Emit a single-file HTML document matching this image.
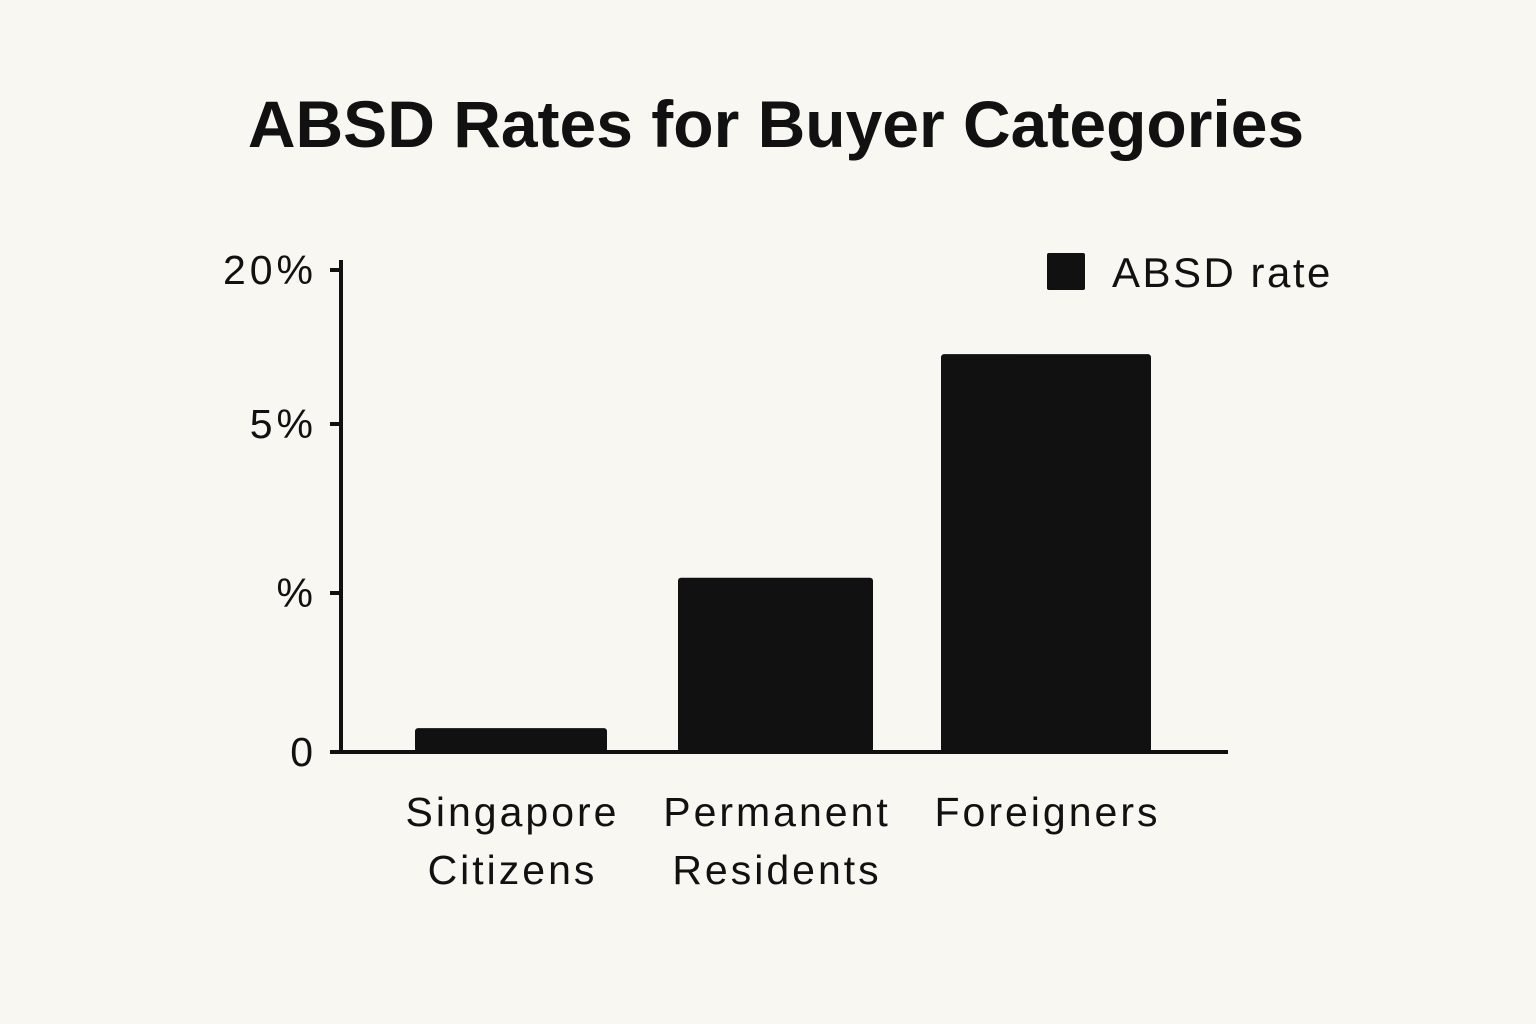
<!DOCTYPE html>
<html><head><meta charset="utf-8"><style>
html,body{margin:0;padding:0;background:#f8f7f2;}
svg{display:block;font-family:"Liberation Sans",sans-serif;}
</style></head><body>
<svg id="chart" width="1536" height="1024" viewBox="0 0 1536 1024">
<rect width="1536" height="1024" fill="#f8f7f2"/>
<text x="776" y="147" text-anchor="middle" font-size="66" font-weight="bold" fill="#111">ABSD Rates for Buyer Categories</text>
<g id="bars"></g>
<g id="yaxis"></g>
<g id="xlabels"></g>
<line x1="341" y1="260" x2="341" y2="754" stroke="#111" stroke-width="4"/>
<line x1="339" y1="752" x2="1228" y2="752" stroke="#111" stroke-width="4"/>
<g>
<rect x="1047" y="253" width="38" height="37" rx="2" fill="#111"/>
<text x="1112" y="287" font-size="42" letter-spacing="2.5" fill="#111">ABSD rate</text>
</g>
</svg>
<script>
const categories = [["Singapore","Citizens"],["Permanent","Residents"],["Foreigners"]];
const values = [0.3, 2.27, 11.8];
const tickValues = [0, 2, 5, 20];
const tickLabels = ["0", "%", "5%", "20%"];
const tickPix = [752, 593, 424, 270];
function yScale(v){
  for(let i=0;i<tickValues.length-1;i++){
    if(v<=tickValues[i+1]||i===tickValues.length-2){
      const t=(v-tickValues[i])/(tickValues[i+1]-tickValues[i]);
      return tickPix[i]+t*(tickPix[i+1]-tickPix[i]);
    }
  }
}
const barX=[415,678,941], barW=[192,195,210];
const NS="http://www.w3.org/2000/svg";
const bars=document.getElementById('bars');
values.forEach((v,i)=>{
  const r=document.createElementNS(NS,'rect');
  const y=yScale(v);
  r.setAttribute('x',barX[i]);r.setAttribute('y',y);
  r.setAttribute('width',barW[i]);r.setAttribute('height',752-y);
  r.setAttribute('rx',3);r.setAttribute('fill','#111');
  
  
  bars.appendChild(r);
});
const ya=document.getElementById('yaxis');
tickValues.forEach((v,i)=>{
  const y=yScale(v);
  const l=document.createElementNS(NS,'line');
  l.setAttribute('x1',330);l.setAttribute('x2',341);l.setAttribute('y1',y);l.setAttribute('y2',y);
  l.setAttribute('stroke','#111');l.setAttribute('stroke-width',4);
  
  
  ya.appendChild(l);
  const t=document.createElementNS(NS,'text');
  t.setAttribute('x',317);t.setAttribute('y',y+14);t.setAttribute('text-anchor','end');
  t.setAttribute('font-size',41);t.setAttribute('letter-spacing',4);t.setAttribute('fill','#111');
  t.textContent=tickLabels[i];
  
  
  ya.appendChild(t);
});
const xl=document.getElementById('xlabels');
categories.forEach((c,i)=>{
  c.forEach((line,j)=>{
    const t=document.createElementNS(NS,'text');
    t.setAttribute('x',barX[i]+barW[i]/2+1.5);t.setAttribute('y',826+j*58);
    t.setAttribute('text-anchor','middle');t.setAttribute('font-size',41);t.setAttribute('letter-spacing',3);t.setAttribute('fill','#111');
    t.textContent=line;
    
    
    xl.appendChild(t);
  });
});
</script>
</body></html>
